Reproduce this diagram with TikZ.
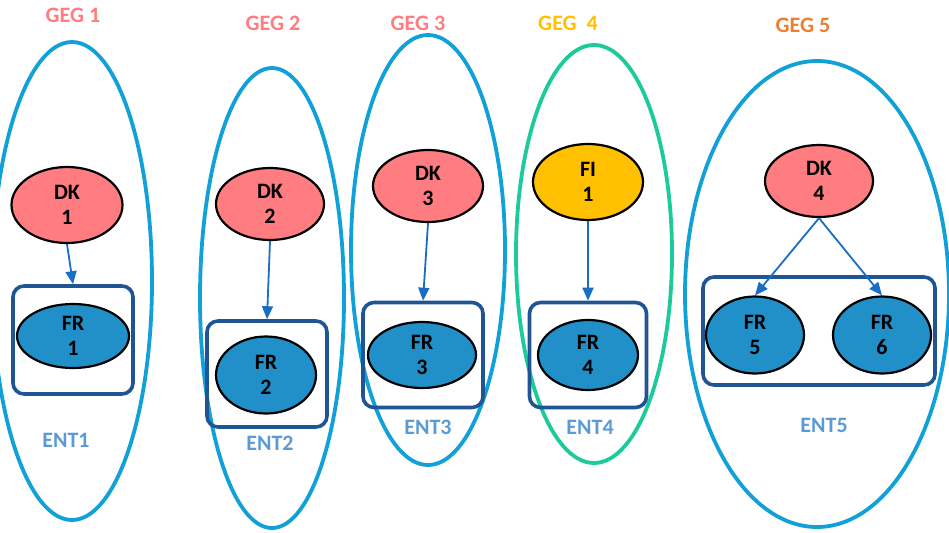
\documentclass[tikz,border=0pt]{standalone}
\usepackage{fontspec}
\setmainfont{Carlito}[BoldFont={Carlito Bold}]
\usetikzlibrary{shapes.geometric,arrows.meta}
\definecolor{salmon}{HTML}{FF7C80}
\definecolor{frblue}{HTML}{2190C9}
\definecolor{boxblue}{HTML}{1F5595}
\definecolor{outblue}{HTML}{11A0D8}
\definecolor{outgreen}{HTML}{1DCB9A}
\definecolor{gold}{HTML}{FFC000}
\definecolor{orangeg}{HTML}{ED7D31}
\definecolor{entblue}{HTML}{5B9BD5}
\definecolor{arrblue}{HTML}{1A6DC4}
\tikzset{
  outer/.style={draw=outblue,line width=3.8pt,ellipse,inner sep=0pt},
  smallell/.style={draw=black,line width=2.2pt,ellipse,inner sep=0pt,align=center,
    font=\fontsize{22}{25}\selectfont\bfseries,text=black},
  dknode/.style={smallell,fill=salmon},
  frnode/.style={smallell,fill=frblue},
  finode/.style={smallell,fill=gold},
  entbox/.style={draw=boxblue,line width=3.6pt,rounded corners=11pt},
  geglabel/.style={font=\fontsize{22}{24}\selectfont\bfseries},
  entlabel/.style={font=\fontsize{22}{24}\selectfont\bfseries,text=entblue},
  link/.style={draw=arrblue,line width=1.8pt,-{Triangle[length=13pt,width=11pt]}},
}
\begin{document}
\begin{tikzpicture}[x=1pt,y=-1pt]
\useasboundingbox (0,0) rectangle (949,532);
% outer ellipses
\node[outer,minimum width=160pt,minimum height=478pt] (g1) at (72,281) {};
\node[outer,minimum width=144pt,minimum height=460pt] (g2) at (272,298) {};
\node[outer,minimum width=154pt,minimum height=430pt] (g3) at (428,250) {};
\node[outer,draw=outgreen,minimum width=156pt,minimum height=418pt] (g4) at (594,254) {};
\node[outer,minimum width=264pt,minimum height=466pt] (g5) at (817,294) {};
% labels
\node[geglabel,text=salmon] (t1) at (73,15) {GEG 1};
\node[geglabel,text=salmon] (t2) at (273,23) {GEG 2};
\node[geglabel,text=salmon] (t3) at (418,23) {GEG 3};
\node[geglabel,text=gold] (t4) at (568,23) {GEG\ \ 4};
\node[geglabel,text=orangeg] (t5) at (803,25) {GEG 5};
% boxes
\node[entbox,minimum width=120pt,minimum height=108pt] (b1) at (73,340) {};
\node[entbox,minimum width=120pt,minimum height=106pt] (b2) at (267,374) {};
\node[entbox,minimum width=120pt,minimum height=105pt] (b3) at (423,355) {};
\node[entbox,minimum width=117pt,minimum height=105pt] (b4) at (588,355) {};
\node[entbox,minimum width=232pt,minimum height=108pt] (b5) at (819,331) {};
% inner ellipses
\node[dknode,minimum width=111pt,minimum height=76pt] (dk1) at (67,205) {DK\\1};
\node[frnode,minimum width=112pt,minimum height=64pt] (fr1) at (73,336) {FR\\1};
\node[dknode,minimum width=108pt,minimum height=72pt] (dk2) at (270,204) {DK\\2};
\node[frnode,minimum width=100pt,minimum height=77pt] (fr2) at (266,375) {FR\\2};
\node[dknode,minimum width=110pt,minimum height=72pt] (dk3) at (428,186) {DK\\3};
\node[frnode,minimum width=108pt,minimum height=66pt] (fr3) at (422,355) {FR\\3};
\node[finode,minimum width=110pt,minimum height=76pt] (fi1) at (588,182) {FI\\1};
\node[frnode,minimum width=100pt,minimum height=70pt] (fr4) at (588,355) {FR\\4};
\node[dknode,minimum width=108pt,minimum height=72pt] (dk4) at (819,181) {DK\\4};
\node[frnode,minimum width=98pt,minimum height=77pt] (fr5) at (755,335) {FR\\5};
\node[frnode,minimum width=98pt,minimum height=77pt] (fr6) at (882,335) {FR\\6};
% ENT labels
\node[entlabel] (e1) at (66,440) {ENT1};
\node[entlabel] (e2) at (270,443) {ENT2};
\node[entlabel] (e3) at (428,427) {ENT3};
\node[entlabel] (e4) at (590,427) {ENT4};
\node[entlabel] (e5) at (824,425) {ENT5};
% arrows
\draw[link] (dk1.south) -- (b1.north);
\draw[link] (dk2.south) -- (b2.north);
\draw[link] (dk3.south) -- (b3.north);
\draw[link] (fi1.south) -- (b4.north);
\draw[link] (dk4.south) -- (fr5.north);
\draw[link] (dk4.south) -- (fr6.north);
\end{tikzpicture}
\end{document}
